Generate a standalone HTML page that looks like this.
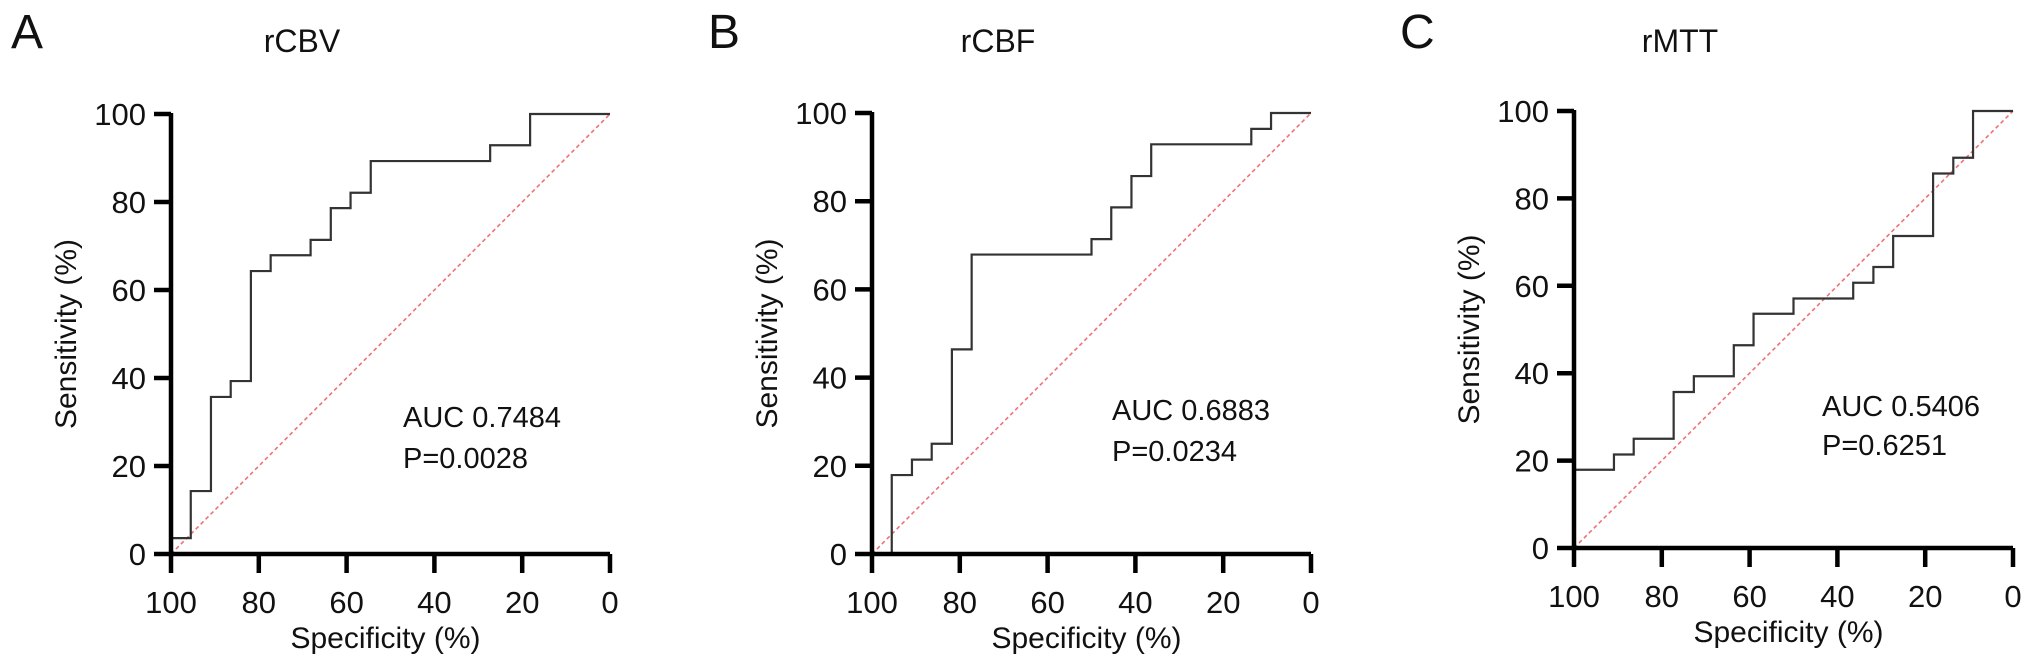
<!DOCTYPE html>
<html><head><meta charset="utf-8"><style>
html,body{margin:0;padding:0;background:#fff;}
svg{display:block;font-family:"Liberation Sans",Arial,sans-serif;}
</style></head><body>
<svg id="fig" width="2032" height="669" viewBox="0 0 2032 669"></svg>
<script>
// Panel A: rCBV
const specA = [100,100,95.5,95.5,90.9,90.9,86.4,86.4,81.8,81.8,77.3,77.3,68.2,68.2,63.6,63.6,59.1,59.1,54.5,54.5,27.3,27.3,18.2,18.2,0];
const sensA = [0,3.6,3.6,14.3,14.3,35.7,35.7,39.3,39.3,64.3,64.3,67.9,67.9,71.4,71.4,78.6,78.6,82.1,82.1,89.3,89.3,92.9,92.9,100,100];
// Panel B: rCBF
const specB = [100,95.5,95.5,90.9,90.9,86.4,86.4,81.8,81.8,77.3,77.3,50,50,45.5,45.5,40.9,40.9,36.4,36.4,13.6,13.6,9.1,9.1,0];
const sensB = [0,0,17.9,17.9,21.4,21.4,25,25,46.4,46.4,67.9,67.9,71.4,71.4,78.6,78.6,85.7,85.7,92.9,92.9,96.4,96.4,100,100];
// Panel C: rMTT
const specC = [100,100,90.9,90.9,86.4,86.4,77.3,77.3,72.7,72.7,63.6,63.6,59.1,59.1,50,50,36.4,36.4,31.8,31.8,27.3,27.3,18.2,18.2,13.6,13.6,9.1,9.1,0];
const sensC = [0,17.9,17.9,21.4,21.4,25,25,35.7,35.7,39.3,39.3,46.4,46.4,53.6,53.6,57.1,57.1,60.7,60.7,64.3,64.3,71.4,71.4,85.7,85.7,89.3,89.3,100,100];
const xTicks = [100,80,60,40,20,0];
const yTicks = [0,20,40,60,80,100];
const titles = ["rCBV","rCBF","rMTT"];
const letters = ["A","B","C"];
const aucs = ["AUC 0.7484","AUC 0.6883","AUC 0.5406"];
const pvals = ["P=0.0028","P=0.0234","P=0.6251"];

const NS="http://www.w3.org/2000/svg";
const svg=document.getElementById('fig');
function mk(tag,attrs,parent){const e=document.createElementNS(NS,tag);for(const k in attrs)e.setAttribute(k,attrs[k]);(parent||svg).appendChild(e);return e;}

const layouts=[
 {x0:171,x1:610,y0:554,y1:114,letterX:11,titleX:302,aucX:403,aucY:427,pY:468},
 {x0:872,x1:1311,y0:554,y1:113,letterX:708,titleX:998,aucX:1112,aucY:420,pY:461},
 {x0:1574,x1:2013,y0:548,y1:111,letterX:1400,titleX:1680,aucX:1822,aucY:416,pY:455}
];
const specs=[specA,specB,specC], senss=[sensA,sensB,sensC];

layouts.forEach((L,i)=>{
 const g=mk('g',{});
 
 
 const sx=v=>L.x0+(100-v)/100*(L.x1-L.x0);
 const sy=v=>L.y0-v/100*(L.y0-L.y1);
 let t=mk('text',{x:L.letterX,y:48,'font-size':48,fill:'#111'},g);t.textContent=letters[i];
 
 t=mk('text',{x:L.titleX,y:52,'font-size':32,'text-anchor':'middle',fill:'#111'},g);t.textContent=titles[i];
 
 let d=mk('line',{x1:sx(100),y1:sy(0),x2:sx(0),y2:sy(100),stroke:'#f07078','stroke-width':1.6,'stroke-dasharray':'4 3'},g);
 
 const pts=specs[i].map((s,j)=>sx(s)+','+sy(senss[i][j])).join(' ');
 let p=mk('polyline',{points:pts,fill:'none',stroke:'#333','stroke-width':2.2},g);
 
 let ax=mk('path',{d:`M${L.x0} ${L.y1-1}V${L.y0}H${L.x1}`,fill:'none',stroke:'#000','stroke-width':4.5},g);
 
 yTicks.forEach(v=>{
  mk('line',{x1:L.x0-17,x2:L.x0,y1:sy(v),y2:sy(v),stroke:'#000','stroke-width':4.5},g);
  const tl=mk('text',{x:L.x0-25,y:sy(v)+11,'font-size':31,'text-anchor':'end',fill:'#111'},g);tl.textContent=v;
  
 });
 xTicks.forEach(v=>{
  mk('line',{x1:sx(v),x2:sx(v),y1:L.y0,y2:L.y0+19,stroke:'#000','stroke-width':4.5},g);
  const tl=mk('text',{x:sx(v),y:L.y0+59,'font-size':31,'text-anchor':'middle',fill:'#111'},g);tl.textContent=v;
  
 });
 t=mk('text',{x:(L.x0+L.x1)/2-5,y:L.y0+94,'font-size':30,'text-anchor':'middle',fill:'#111'},g);t.textContent='Specificity (%)';
 
 const yc=(L.y0+L.y1)/2, xc=L.x0-95;
 t=mk('text',{x:xc,y:yc,'font-size':30,'text-anchor':'middle',fill:'#111',transform:`rotate(-90 ${xc} ${yc})`},g);t.textContent='Sensitivity (%)';
 
 t=mk('text',{x:L.aucX,y:L.aucY,'font-size':29,fill:'#111'},g);t.textContent=aucs[i];
 
 t=mk('text',{x:L.aucX,y:L.pY,'font-size':29,fill:'#111'},g);t.textContent=pvals[i];
 
});
</script>
</body></html>
